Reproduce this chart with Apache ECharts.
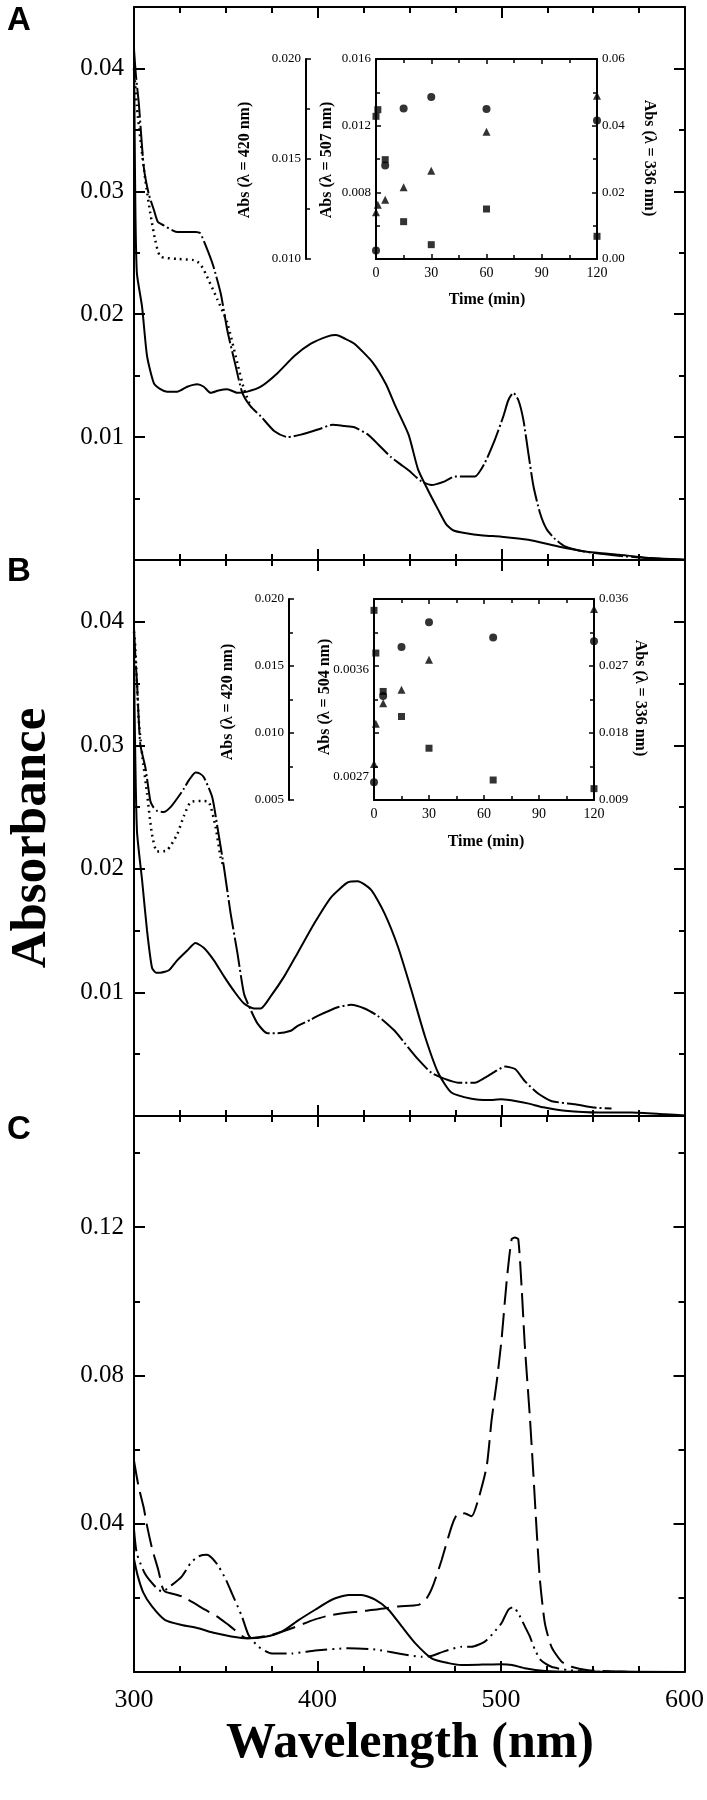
<!DOCTYPE html>
<html>
<head>
<meta charset="utf-8">
<script src="https://cdn.jsdelivr.net/npm/echarts/dist/echarts.min.js"></script>
<style>
html,body{margin:0;padding:0;background:#fff;}
#chart{width:707px;height:1800px;}
</style>
</head>
<body>
<div id="chart"></div>
<script>
// ---------------- DATA ----------------
// Panel A spectra [wavelength nm, absorbance]
const aSolid = [[300,0.042],[300.4,0.034],[300.8,0.028],[301.6,0.0233],[304.4,0.0206],[307.1,0.0166],[310.8,0.0144],[314.4,0.0139],[318,0.0137],[323.5,0.0137],[329,0.0141],[334.4,0.0143],[338,0.0141],[341.7,0.0136],[346,0.0138],[350.8,0.0139],[356.3,0.0136],[361.7,0.0137],[369,0.0141],[378.1,0.0152],[387.3,0.0166],[396.3,0.0176],[405.5,0.0182],[410,0.0183],[415,0.018],[420,0.0176],[429.8,0.0161],[437.2,0.0143],[442.1,0.0126],[449.5,0.0102],[454.6,0.0074],[460,0.0057],[465.6,0.0041],[470,0.0029],[474,0.0024],[480,0.0022],[490,0.002],[500,0.0019],[514.7,0.00165],[531,0.0011],[545.7,0.0007],[564,0.00043],[582,0.00016],[600,0.00002]];
const aDashDot = [[300,0.0415],[301,0.0395],[302.6,0.0372],[305.3,0.032],[308,0.0298],[310.8,0.0285],[313,0.0275],[315.3,0.0273],[323.5,0.0267],[333.5,0.0267],[336,0.0266],[339,0.0256],[343,0.024],[347.2,0.0217],[350.8,0.0187],[355,0.016],[359,0.0136],[363.5,0.0125],[369,0.0117],[376.3,0.0105],[383.6,0.01],[390.9,0.0102],[401.8,0.0107],[408,0.011],[414.6,0.0109],[420,0.0108],[427.4,0.0102],[433,0.0094],[439.7,0.0084],[445,0.0078],[449.5,0.0073],[456.4,0.0064],[461.9,0.0061],[469.2,0.0064],[474.7,0.0068],[479.2,0.0068],[485.6,0.0068],[491,0.0079],[496.5,0.0098],[501.1,0.0117],[503.8,0.013],[506.5,0.0136],[509.3,0.013],[512,0.0114],[514.7,0.0087],[517.5,0.006],[521.1,0.0038],[524.7,0.0025],[529.3,0.0017],[534.7,0.0011],[545,0.0007],[560,0.0004],[580,0.00015],[600,0.00002]];
const aDotted = [[300,0.040],[301.5,0.037],[303.5,0.0342],[306.2,0.0309],[308.9,0.0282],[311.6,0.026],[314.4,0.0247],[323.5,0.0245],[332.6,0.0244],[336,0.0241],[339,0.0233],[345.4,0.0212],[350.8,0.0193],[356.3,0.016],[359.9,0.0139],[363.5,0.0125]];
// Panel B spectra
const bSolid = [[300,0.039],[300.3,0.033],[301.6,0.0231],[304.4,0.0191],[307.1,0.015],[309.8,0.012],[312,0.0116],[314.4,0.0116],[319,0.0118],[323.5,0.0126],[329,0.0134],[333.5,0.014],[338.1,0.0136],[343.5,0.0126],[349,0.0113],[354.5,0.0101],[359.9,0.0091],[365.4,0.0087],[369,0.0087],[374.5,0.0097],[381.8,0.0113],[389.1,0.0132],[398.2,0.0156],[407.3,0.0177],[416.4,0.0189],[421.8,0.019],[429.1,0.0183],[436.4,0.0164],[443.7,0.0137],[451,0.0102],[458.3,0.0065],[465.6,0.0035],[472.8,0.0019],[483.8,0.0014],[492.9,0.0013],[500,0.00135],[508.3,0.0012],[515,0.001],[522.9,0.0007],[534.7,0.00042],[553,0.00028],[571,0.00028],[589,0.00014],[600,0.00005]];
const bDashDot = [[300,0.0395],[300.8,0.037],[301.6,0.0352],[303.4,0.0301],[306.2,0.0282],[308.9,0.0255],[310.5,0.025],[312.6,0.0247],[316.2,0.0246],[319.9,0.025],[323.5,0.0257],[327.2,0.0265],[330,0.0272],[333.5,0.0278],[336,0.0277],[338.1,0.0274],[342.6,0.0258],[345.4,0.0234],[349,0.0201],[352.6,0.0164],[356.3,0.0132],[359.9,0.0099],[363.5,0.0086],[367.2,0.0075],[372.7,0.0067],[378.1,0.0067],[385.4,0.0069],[389.1,0.0073],[396.3,0.0078],[400,0.0081],[410.9,0.0088],[418.2,0.009],[425.5,0.0087],[432.7,0.0081],[441.9,0.0069],[447.4,0.0059],[454.6,0.0046],[461.9,0.0035],[469.2,0.003],[476.5,0.0027],[485.6,0.0027],[491.1,0.0031],[496.5,0.0036],[502,0.004],[507.5,0.0038],[512.9,0.0028],[520.2,0.0018],[527.5,0.0012],[540.2,0.00095],[549.3,0.0007],[560,0.0006]];
const bDotted = [[300,0.0392],[300.7,0.0379],[302.6,0.032],[304.4,0.0293],[307.1,0.0261],[309.8,0.0228],[312.6,0.0214],[318,0.0215],[323.5,0.0228],[327.2,0.0243],[330.8,0.0254],[336.3,0.0255],[340.8,0.0254],[344.4,0.0234],[347.2,0.0209],[349,0.0201]];
// Panel C spectra
const cSolid = [[300,0.0305],[302,0.026],[305,0.0215],[309.8,0.0177],[317,0.014],[326,0.0127],[335,0.0118],[344,0.0105],[353,0.0096],[362,0.0091],[371.5,0.0095],[380.6,0.0109],[389.7,0.014],[398.7,0.0168],[407.8,0.0195],[416.9,0.0208],[424,0.0208],[431.4,0.0195],[438.7,0.0168],[445.9,0.0123],[453.2,0.0078],[462.2,0.0037],[471.3,0.0024],[478.5,0.0019],[490,0.002],[500,0.0021],[506,0.0019],[513,0.001],[524,0.0003],[540,0.0001],[600,0]];
const cLongDash = [[300,0.057],[302.5,0.05],[305.3,0.0443],[307,0.0397],[310,0.033],[313.2,0.0276],[315.5,0.0228],[317,0.0217],[326.1,0.0204],[338.8,0.0168],[345.2,0.015],[352,0.0125],[361.5,0.0091],[368,0.0094],[375,0.01],[386,0.0118],[398.7,0.0142],[407.8,0.0154],[422.3,0.0163],[433.2,0.0169],[444.1,0.0177],[455,0.0181],[459.5,0.0199],[463.1,0.0235],[467.7,0.0303],[473.1,0.0393],[476,0.0425],[480,0.0428],[484,0.042],[487.6,0.0465],[492.2,0.0555],[494.9,0.0681],[497.6,0.078],[500.3,0.0897],[503,0.105],[505.8,0.1168],[507.6,0.1172],[509.4,0.1168],[511.2,0.1041],[513,0.0879],[515.7,0.069],[517.6,0.0537],[519.4,0.0384],[521.2,0.0249],[523.9,0.0132],[527.5,0.0068],[533,0.0028],[538.4,0.0014],[547.5,0.0005],[560,0.0002],[575,0],[600,0]];
const cDashDotDot = [[300,0.0385],[301.5,0.0321],[306,0.0265],[312,0.0228],[315.2,0.0217],[320.7,0.0235],[326.1,0.0258],[331,0.0295],[335.2,0.0312],[339.7,0.0316],[343,0.0305],[346.1,0.0285],[350,0.025],[353.3,0.0213],[358.8,0.015],[362.4,0.01],[367.9,0.0068],[375.1,0.005],[386,0.005],[398.7,0.0058],[416.9,0.0064],[431.4,0.0061],[444.1,0.005],[456.8,0.0041],[462,0.0043],[468.6,0.0055],[478.5,0.0068],[484,0.0068],[491.2,0.0082],[495.8,0.0105],[500.3,0.0132],[504,0.0168],[506.7,0.0175],[509.4,0.0159],[513,0.0123],[515.7,0.0096],[518.5,0.006],[521.7,0.0032],[527.5,0.0014],[536.6,0.0005],[550,0.0001],[600,0]];

// Inset A (time in min)
const insA_t420 = [0,5,15,30,60,120];
const insA_v420 = [0.01043,0.01467,0.01752,0.01810,0.01750,0.01692];
const insA_t507 = [0,1,5,15,30,60,120];
const insA_v507 = [0.01256,0.01296,0.00996,0.00624,0.00486,0.0070,0.00536];
const insA_t336 = [0,1,5,15,30,60,120];
const insA_v336 = [0.014,0.0163,0.0178,0.0215,0.0265,0.0382,0.049];
// Inset B
const insB_t420 = [0,5,15,30,65,120];
const insB_v420 = [0.00632,0.01277,0.01641,0.01826,0.01713,0.01684];
const insB_t504 = [0,1,5,15,30,65,120];
const insB_v504 = [0.004104,0.003743,0.003418,0.003206,0.002938,0.002669,0.002596];
const insB_t336 = [0,1,5,15,30,120];
const insB_v336 = [0.01384,0.01923,0.0220,0.0238,0.02784,0.03465];

// Tick labels
const yTicksAB = [0.01,0.02,0.03,0.04];
const yTicksC = [0.04,0.08,0.12];
const insB_504Labels = [0.0027,0.0036];

// ---------------- OPTION ----------------
const SERIF = 'Liberation Serif';
const BLK = '#000';
function axLine(show,w){return {show:show,onZero:false,lineStyle:{color:BLK,width:w}};}
function tick(len,w){return {show:true,inside:true,length:len,lineStyle:{color:BLK,width:w}};}
function pick(labs,v,d){const t=labs.find(x=>Math.abs(x-v)<1e-9);return t===undefined?'':t.toFixed(d);}

const grids = [
  {left:134, top:7, width:551, height:553},
  {left:134, top:560, width:551, height:556},
  {left:134, top:1116, width:551, height:556},
  {left:376, top:59, width:221, height:200},
  {left:374, top:599, width:220, height:201}
];

function mainX(g,pos,showL){
  return {type:'value',gridIndex:g,position:pos,min:300,max:600,interval:100,
    axisLine:axLine(true,2),axisTick:tick(11,2),
    minorTick:{show:true,splitNumber:4,length:6,lineStyle:{color:BLK,width:2}},
    axisLabel:{show:showL,color:BLK,fontFamily:SERIF,fontSize:26,margin:15},
    splitLine:{show:false},minorSplitLine:{show:false}};
}
function insetX(g,pos,showL){
  return {type:'value',gridIndex:g,position:pos,min:0,max:120,interval:30,
    axisLine:axLine(true,2),axisTick:tick(5,1.5),
    minorTick:{show:true,splitNumber:2,length:4,lineStyle:{color:BLK,width:1.5}},
    axisLabel:{show:showL,color:BLK,fontFamily:SERIF,fontSize:14,margin:7},
    splitLine:{show:false},minorSplitLine:{show:false}};
}
function majorY(g,pos,max,iv,labs,showL){
  return {type:'value',gridIndex:g,position:pos,min:0,max:max,interval:iv,
    axisLine:axLine(true,2),axisTick:tick(11,2),
    axisLabel:{show:showL,formatter:v=>pick(labs,v,2),color:BLK,fontFamily:SERIF,fontSize:25,margin:10},
    splitLine:{show:false}};
}
function minorY(g,pos,max,iv){
  return {type:'value',gridIndex:g,position:pos,min:0,max:max,interval:iv,
    axisLine:axLine(false,2),axisTick:tick(6,2),axisLabel:{show:false},splitLine:{show:false}};
}
function insetY(g,pos,min,max,iv,dec,showL,opts){
  const o = {type:'value',gridIndex:g,position:pos,min:min,max:max,interval:iv,
    axisLine:axLine(true,2),axisTick:tick(5,1.5),
    minorTick:{show:true,splitNumber:2,length:4,lineStyle:{color:BLK,width:1.5}},
    axisLabel:{show:showL,formatter:v=>v.toFixed(dec),color:BLK,fontFamily:SERIF,fontSize:13,margin:5},
    splitLine:{show:false},minorSplitLine:{show:false}};
  return Object.assign(o,opts||{});
}

const xAxis = [];
for (let p=0;p<3;p++){ xAxis.push(mainX(p,'bottom',p===2)); xAxis.push(mainX(p,'top',false)); }
xAxis.push(insetX(3,'bottom',true)); xAxis.push(insetX(3,'top',false));   // 6,7
xAxis.push(insetX(4,'bottom',true)); xAxis.push(insetX(4,'top',false));   // 8,9

const yAxis = [];
for (let p=0;p<3;p++){
  const mx = p<2?0.045:0.15, iv = p<2?0.01:0.04, miv = p<2?0.005:0.02, labs = p<2?yTicksAB:yTicksC;
  yAxis.push(majorY(p,'left',mx,iv,labs,true));
  yAxis.push(minorY(p,'left',mx,miv));
  yAxis.push(majorY(p,'right',mx,iv,labs,false));
  yAxis.push(minorY(p,'right',mx,miv));
}
// inset A: 12 inner-left 507, 13 right 336, 14 far-left 420
yAxis.push(insetY(3,'left',0.004,0.016,0.004,3,true,{axisLabel:{formatter:v=>v<0.0045?'':v.toFixed(3),color:BLK,fontFamily:SERIF,fontSize:13,margin:5}}));
yAxis.push(insetY(3,'right',0,0.06,0.02,2,true,{}));
yAxis.push(insetY(3,'left',0.010,0.020,0.005,3,true,{offset:70}));
// inset B: 15 inner-left 504 (labels only), 16 right 336, 17 left mirror ticks, 18 far-left 420
yAxis.push({type:'value',gridIndex:4,position:'left',min:0.0025,max:0.0042,
  axisLine:axLine(true,2),axisTick:{show:false},
  axisLabel:{show:true,customValues:insB_504Labels,formatter:v=>pick(insB_504Labels,v,4),color:BLK,fontFamily:SERIF,fontSize:13,margin:5},
  splitLine:{show:false}});
yAxis.push(insetY(4,'right',0.009,0.036,0.009,3,true,{}));
yAxis.push(insetY(4,'left',0.009,0.036,0.009,3,false,{axisLine:axLine(false,2)}));
yAxis.push(insetY(4,'left',0.005,0.020,0.005,3,true,{offset:85}));

function lineS(data,xi,yi,type,width){
  return {type:'line',data:data,xAxisIndex:xi,yAxisIndex:yi,showSymbol:false,symbol:'none',smooth:0.2,
    lineStyle:{color:BLK,width:width,type:type,cap:'butt'},animation:false,silent:true,z:3};
}
function sc(ts,vs,xi,yi,sym,size){
  return {type:'scatter',data:ts.map((t,i)=>[t,vs[i]]),xAxisIndex:xi,yAxisIndex:yi,symbol:sym,symbolSize:size,
    itemStyle:{color:BLK},animation:false,silent:true,clip:false,z:4};
}
const DASHDOT=[30,3,2,3], DOTS=[1.8,4.2], LONG=[24,8], DDD=[22,5,2,5,2,5];
const series = [
  lineS(aSolid,0,0,'solid',2), lineS(aDashDot,0,0,DASHDOT,2), lineS(aDotted,0,0,DOTS,2.5),
  lineS(bSolid,2,4,'solid',2), lineS(bDashDot,2,4,DASHDOT,2), lineS(bDotted,2,4,DOTS,2.5),
  lineS(cSolid,4,8,'solid',2), lineS(cLongDash,4,8,LONG,2), lineS(cDashDotDot,4,8,DDD,2),
  sc(insA_t420,insA_v420,6,14,'circle',8), sc(insA_t507,insA_v507,6,12,'rect',7), sc(insA_t336,insA_v336,6,13,'triangle',8),
  sc(insB_t420,insB_v420,8,18,'circle',8), sc(insB_t504,insB_v504,8,15,'rect',7), sc(insB_t336,insB_v336,8,16,'triangle',8)
];

function txt(s,x,y,font,rot){
  return {type:'text',x:x,y:y,rotation:rot||0,silent:true,z:10,
    style:{text:s,font:font,fill:BLK,align:'center',verticalAlign:'middle',textAlign:'center',textVerticalAlign:'middle'}};
}
const LBL = 'bold 16px "Liberation Serif"';
const graphic = [
  txt('A',19,21,'bold 33px "Liberation Sans"'),
  txt('B',19,572,'bold 33px "Liberation Sans"'),
  txt('C',19,1130,'bold 33px "Liberation Sans"'),
  txt('Absorbance',32,838,'bold 51px "Liberation Serif"',Math.PI/2),
  txt('Wavelength (nm)',410,1744,'bold 50px "Liberation Serif"'),
  txt('Abs (λ = 420 nm)',245,160,LBL,Math.PI/2),
  txt('Abs (λ = 507 nm)',327,160,LBL,Math.PI/2),
  txt('Abs (λ = 336 nm)',649,158,LBL,-Math.PI/2),
  txt('Time (min)',487,300,LBL),
  txt('Abs (λ = 420 nm)',228,702,LBL,Math.PI/2),
  txt('Abs (λ = 504 nm)',325,697,LBL,Math.PI/2),
  txt('Abs (λ = 336 nm)',640,698,LBL,-Math.PI/2),
  txt('Time (min)',486,842,LBL)
];

const chart = echarts.init(document.getElementById('chart'),null,{renderer:'canvas'});
chart.setOption({backgroundColor:'#fff',animation:false,grid:grids,xAxis:xAxis,yAxis:yAxis,series:series,graphic:{elements:graphic}});
</script>
</body>
</html>
